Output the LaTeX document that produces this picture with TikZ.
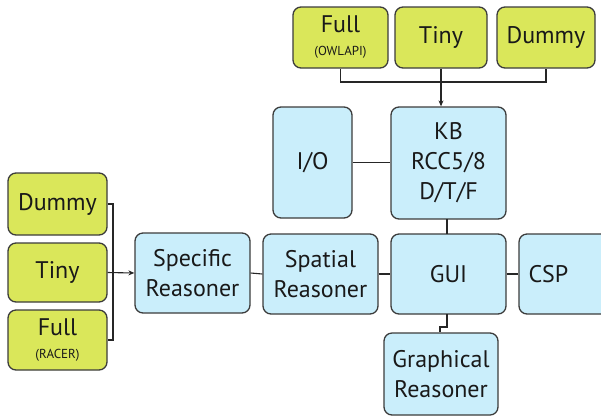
\documentclass[tikz,border=0pt]{standalone}
\usepackage{fontspec}
\setmainfont{PT Sans}
\usetikzlibrary{arrows.meta}
\definecolor{boxline}{HTML}{3C3C3C}
\definecolor{lime}{HTML}{DAE75A}
\definecolor{sky}{HTML}{CAEEFB}
\tikzset{
  box/.style={draw=boxline, line width=1.3pt, rounded corners=8pt, align=center,
    font=\fontsize{24}{30}\selectfont, inner sep=0pt, text=black!90},
  ybox/.style={box, fill=lime},
  bbox/.style={box, fill=sky},
  small/.style={font=\fontsize{13}{14}\selectfont},
  wire/.style={draw=black!85, line width=1.1pt},
  tip/.style={-{Stealth[length=6pt,width=5pt]}}
}
\newcommand{\sublabel}[1]{\\[-7pt]{\fontsize{13}{14}\selectfont #1}}
\begin{document}
\begin{tikzpicture}[x=1pt, y=-1pt]
\useasboundingbox (0,0) rectangle (601,416);
\begin{scope}
\clip (0,0) rectangle (601,416);
% yellow reasoner variants, top row
\node[ybox, minimum width=95pt, minimum height=61pt] (fullT) at (340.5,37.5)
  {Full\sublabel{(OWLAPI)}};
\node[ybox, minimum width=92pt, minimum height=61pt] (tinyT) at (441,37.5) {Tiny};
\node[ybox, minimum width=98pt, minimum height=61pt] (dummyT) at (546,37.5) {Dummy};
% yellow reasoner variants, left column
\node[ybox, minimum width=99pt, minimum height=62pt] (dummyL) at (57.5,204) {Dummy};
\node[ybox, minimum width=99pt, minimum height=59pt] (tinyL) at (57.5,272.5) {Tiny};
\node[ybox, minimum width=99pt, minimum height=60pt] (fullL) at (57.5,340)
  {Full\sublabel{(RACER)}};
% blue components
\node[bbox, minimum width=79pt, minimum height=111pt] (io) at (312.5,162.5) {I/O};
\node[bbox, minimum width=115pt, minimum height=112pt] (kb) at (448.5,163) {KB\\RCC5/8\\D/T/F};
\node[bbox, minimum width=115pt, minimum height=80pt] (spec) at (192.5,273) {Specific\\Reasoner};
\node[bbox, minimum width=115pt, minimum height=80pt] (spat) at (320.5,274) {Spatial\\Reasoner};
\node[bbox, minimum width=115pt, minimum height=80pt] (gui) at (448.5,274) {GUI};
\node[bbox, minimum width=91pt, minimum height=80pt, text width=82pt, align=left] (csp) at (564.5,274) {\hspace*{5pt}CSP};
\node[bbox, minimum width=114pt, minimum height=82pt] (graph) at (441,374) {Graphical\\Reasoner};
% top variants feed the knowledge base
\coordinate (jt) at (441,82);
\draw[wire] (fullT.south) |- (jt) -| (dummyT.south);
\draw[wire, tip] (tinyT.south) -- (tinyT.south |- kb.north);
% left variants feed the specific reasoner
\coordinate (jl) at (113,273);
\draw[wire] (dummyL.east) -| (jl) |- (fullL.east);
\draw[wire, tip] (tinyL.east) -- (spec.west);
% component links
\draw[wire] (io.east) -- (io.east -| kb.west);
\draw[wire] (spec.east) -- (spat.west);
\draw[wire] (spat.east) -- (gui.west);
\draw[wire] (gui.east) -- (csp.west);
\draw[wire] (447,219) -- (447,234);
\coordinate (g1) at (447,327);
\coordinate (g2) at (440,327);
\draw[wire] (447,314) -- (g1) -- (g2) -- (g2 |- graph.north);
\end{scope}
\end{tikzpicture}
\end{document}
